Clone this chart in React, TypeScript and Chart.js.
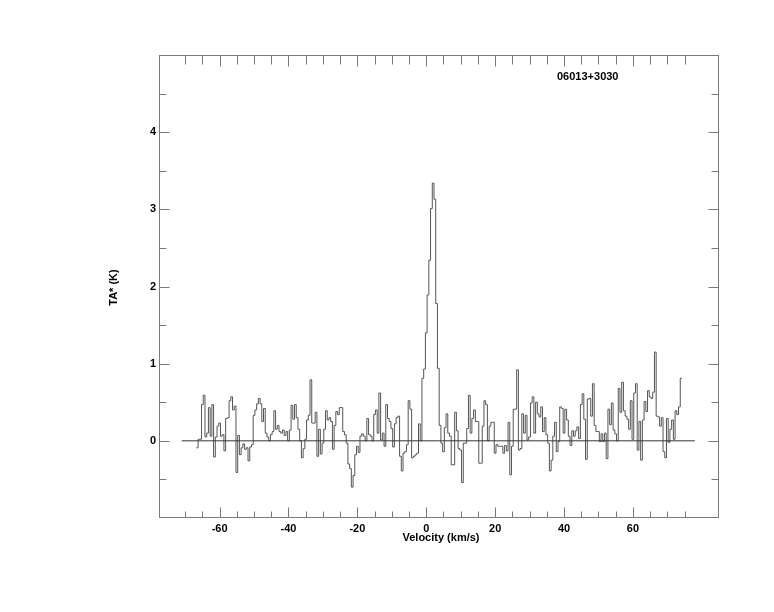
import React, { useEffect, useRef } from "react";
import { Chart, registerables } from "chart.js";

Chart.register(...registerables);

// ---- Text ----
const SOURCE_NAME = "06013+3030";
const X_TITLE = "Velocity (km/s)";
const Y_TITLE = "TA* (K)";

// ---- Spectrum data (channel grid + antenna temperature per channel, K) ----
const VELOCITY_START = -66.75; // left edge of first channel, km/s
const CHANNEL_WIDTH = 0.5; // km/s
const ANTENNA_TEMP = [
  -0.09, 0.02, 0.02, 0.47, 0.59, 0.05, 0.1, 0.43, 0.06, 0.47,
  -0.21, 0.05, 0.19, 0.23, 0.06, 0.08, -0.13, 0.29, 0.3, 0.52,
  0.57, 0.4, 0.45, -0.41, 0.07, -0.18, -0.09, -0.04, -0.11, -0.09,
  -0.26, -0.08, -0.05, 0.33, 0.4, 0.48, 0.55, 0.48, 0.25, 0.42,
  0.1, 0.05, 0.0, 0.08, 0.12, 0.39, 0.15, 0.2, 0.12, 0.1,
  0.14, 0.07, 0.12, 0.0, 0.14, 0.46, 0.28, 0.47, 0.3, 0.15,
  0.0, -0.22, -0.1, 0.02, 0.27, 0.33, 0.79, 0.23, 0.23, 0.37,
  -0.2, 0.15, -0.17, -0.03, 0.15, 0.39, 0.27, 0.3, 0.25, -0.11,
  0.2, 0.38, 0.34, 0.43, 0.43, 0.12, 0.08, -0.03, -0.3, -0.36,
  -0.6, -0.45, -0.18, -0.07, -0.15,
  0.06, 0.09, 0.06, 0.0, 0.29, 0.08, 0.06, 0.0, 0.34, 0.4,
  0.1, 0.62, 0.01, 0.1, -0.07, 0.47, 0.29, 0.25, 0.16, -0.08,
  0.22, 0.3, 0.32, -0.2, -0.39, -0.16, -0.14, -0.05, 0.52, 0.41,
  -0.22, -0.2, -0.18, -0.16, 0.22, 0.0, 0.81, 0.93, 1.4, 1.89,
  2.34, 3.01, 3.34, 3.13, 1.78, 0.94, 0.2, -0.03, -0.14, 0.17,
  0.35, 0.1, 0.06, -0.31, -0.31, 0.37, 0.13, -0.1, -0.12, -0.54,
  -0.03, -0.03, 0.16, 0.59, 0.1, 0.29, 0.4, 0.25, 0.25, -0.29,
  -0.29, 0.19, 0.52, 0.47, 0.0, 0.19, 0.24, 0.24, -0.16, -0.05,
  -0.07, -0.07, -0.07, -0.16, -0.06, -0.13, 0.24, -0.44, -0.07, 0.41,
  0.41, 0.92, -0.12, -0.1, 0.35, 0.1,
  0.33, 0.01, 0.05, 0.49, 0.57, 0.1, 0.5, 0.35, 0.31, 0.44,
  0.12, 0.3, 0.08, -0.03, -0.39, -0.25, 0.06, 0.24, -0.14, -0.01,
  0.44, 0.42, 0.1, 0.41, 0.27, 0.06, -0.06, 0.13, 0.06, 0.13,
  0.18, 0.03, 0.47, 0.61, 0.28, -0.24, 0.54, 0.55, 0.32, 0.74,
  0.2, 0.12, 0.12, -0.01, 0.09, -0.01, 0.1, -0.23, 0.41, 0.21,
  0.49, 0.14, 0.09, 0.0, 0.68, 0.37, 0.76, 0.39, 0.32, 0.28,
  0.15, 0.52, 0.02, 0.62, 0.74, -0.12, 0.25, -0.25, 0.27, 0.51,
  0.38, 0.65, 0.57, 0.55, 0.63, 1.15, 0.32, 0.31, 0.19, 0.3,
  -0.14, -0.22, 0.29, -0.02, 0.15, 0.27, 0.02, 0.39, 0.34, 0.44,
  0.81,
];

// Zero baseline extent (km/s)
const BASELINE_VELOCITIES = [-71, 78];

// ---- Axes ----
const X_MIN = -77.6;
const X_MAX = 85;
const Y_MIN = -1;
const Y_MAX = 5;
const X_MAJOR_TICKS = [-60, -40, -20, 0, 20, 40, 60];
const X_MINOR_TICKS = [
  -70, -65, -60, -55, -50, -45, -40, -35, -30, -25, -20, -15, -10, -5, 0,
  5, 10, 15, 20, 25, 30, 35, 40, 45, 50, 55, 60, 65, 70, 75,
];
const Y_MAJOR_TICKS = [0, 1, 2, 3, 4];
const Y_MINOR_TICKS = [-0.5, 0, 0.5, 1, 1.5, 2, 2.5, 3, 3.5, 4, 4.5];

const FONT_FAMILY = "'Liberation Sans', Arial, Helvetica, sans-serif";
const FRAME_COLOR = "#7a7a7a";
const LINE_COLOR = "#555555";
const BASELINE_COLOR = "#333333";

const frameTicksPlugin = {
  id: "frameTicks",
  afterDraw(chart: any) {
    const { ctx, chartArea: a, scales } = chart;
    const xs = scales.x;
    const ys = scales.y;
    ctx.save();
    ctx.strokeStyle = FRAME_COLOR;
    ctx.lineWidth = 1;
    const L = Math.round(a.left) + 0.5;
    const R = Math.round(a.right) - 0.5;
    const T = Math.round(a.top) + 0.5;
    const B = Math.round(a.bottom) - 0.5;
    ctx.strokeRect(L, T, R - L, B - T);
    ctx.beginPath();
    X_MINOR_TICKS.forEach((v) => {
      const px = Math.round(xs.getPixelForValue(v)) + 0.5;
      const major = X_MAJOR_TICKS.includes(v);
      const lb = major ? 10 : 6;
      const lt = major ? 11 : 9;
      ctx.moveTo(px, B);
      ctx.lineTo(px, B - lb);
      ctx.moveTo(px, T);
      ctx.lineTo(px, T + lt);
    });
    Y_MINOR_TICKS.forEach((v) => {
      const py = Math.round(ys.getPixelForValue(v)) + 0.5;
      const major = Y_MAJOR_TICKS.includes(v);
      const len = major ? 10 : 7;
      ctx.moveTo(L, py);
      ctx.lineTo(L + len, py);
      ctx.moveTo(R, py);
      ctx.lineTo(R - len, py);
    });
    ctx.stroke();

    ctx.fillStyle = "#000";
    ctx.font = `bold 11px ${FONT_FAMILY}`;
    ctx.textBaseline = "alphabetic";
    ctx.textAlign = "center";
    ctx.fillText(X_TITLE, (a.left + a.right) / 2 + 2, a.bottom + 23);

    ctx.textAlign = "left";
    ctx.fillText(SOURCE_NAME, a.left + 398, a.top + 25);

    ctx.save();
    ctx.translate(a.left - 42, (a.top + a.bottom) / 2 + 1);
    ctx.rotate(-Math.PI / 2);
    ctx.textAlign = "center";
    ctx.fillText(Y_TITLE, 0, 0);
    ctx.restore();

    ctx.restore();
  },
};

export default function App() {
  const canvasRef = useRef<HTMLCanvasElement | null>(null);

  useEffect(() => {
    if (!canvasRef.current) return;
    const spectrum = ANTENNA_TEMP.map((t, i) => ({
      x: VELOCITY_START + i * CHANNEL_WIDTH,
      y: t,
    }));
    spectrum.push({
      x: VELOCITY_START + ANTENNA_TEMP.length * CHANNEL_WIDTH,
      y: ANTENNA_TEMP[ANTENNA_TEMP.length - 1],
    });
    const baseline = BASELINE_VELOCITIES.map((v) => ({ x: v, y: 0 }));

    const tickFont = { family: FONT_FAMILY, size: 11, weight: "bold" as const };

    const chart = new Chart(canvasRef.current, {
      type: "line",
      data: {
        datasets: [
          {
            label: "baseline",
            data: baseline,
            borderColor: BASELINE_COLOR,
            borderWidth: 1,
            pointRadius: 0,
            fill: false,
          },
          {
            label: SOURCE_NAME,
            data: spectrum,
            borderColor: LINE_COLOR,
            borderWidth: 1,
            pointRadius: 0,
            stepped: "before",
            fill: false,
          },
        ],
      },
      options: {
        animation: false,
        responsive: false,
        devicePixelRatio: 1,
        parsing: false,
        layout: { padding: { top: 55, right: 55, left: 0, bottom: 0 } },
        plugins: {
          legend: { display: false },
          title: { display: false },
          tooltip: { enabled: false },
        },
        scales: {
          x: {
            type: "linear",
            min: X_MIN,
            max: X_MAX,
            grid: { display: false, drawTicks: false },
            border: { display: false },
            afterBuildTicks: (s: any) => {
              s.ticks = X_MAJOR_TICKS.map((v) => ({ value: v }));
            },
            afterFit: (s: any) => {
              s.height = 94;
            },
            ticks: {
              font: tickFont,
              color: "#000",
              padding: 4,
              maxRotation: 0,
              autoSkip: false,
              callback: (v: any) => String(v),
            },
          },
          y: {
            type: "linear",
            min: Y_MIN,
            max: Y_MAX,
            grid: { display: false, drawTicks: false },
            border: { display: false },
            afterBuildTicks: (s: any) => {
              s.ticks = Y_MAJOR_TICKS.map((v) => ({ value: v }));
            },
            afterFit: (s: any) => {
              s.width = 159;
            },
            ticks: {
              font: tickFont,
              color: "#000",
              padding: 3,
              autoSkip: false,
              callback: (v: any) => String(v),
            },
          },
        },
      },
      plugins: [frameTicksPlugin],
    });
    return () => chart.destroy();
  }, []);

  return (
    <div style={{ position: "absolute", left: 0, top: 0, width: 774, height: 612, background: "#fff" }}>
      <canvas ref={canvasRef} width={774} height={612} style={{ display: "block" }} />
    </div>
  );
}
